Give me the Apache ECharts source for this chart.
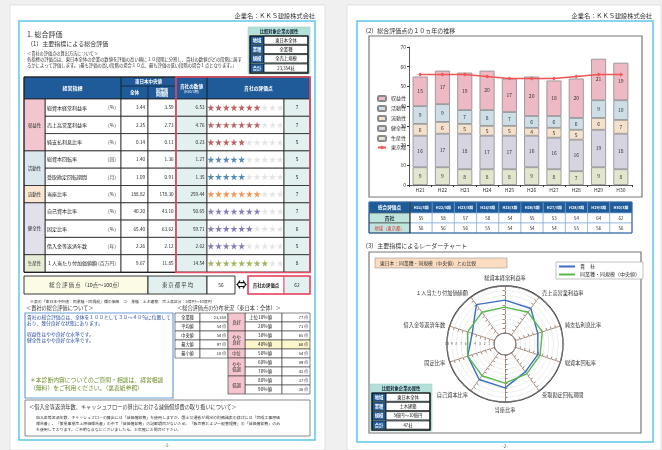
<!DOCTYPE html>
<html><head><meta charset="utf-8">
<script src="https://cdn.jsdelivr.net/npm/echarts@6.0.0/dist/echarts.min.js"></script>
<style>html,body{margin:0;padding:0;background:#f0f0f0}#c{width:662px;height:450px}</style>
</head><body><div id="c"></div><script>
const FF = '"Noto Sans CJK JP","Noto Sans CJK SC",sans-serif';

// ---------- data: page 1 table ----------
const indicators = ['総資本経常利益率','売上高営業利益率','純支払利息比率','総資本回転率','受取勘定回転期間','当座比率','自己資本比率','固定比率','借入金等返済年数','１人当たり付加価値額'];
const units = ['（%）','（%）','（%）','（回）','（月）','（%）','（%）','（%）','（年）','（百万円）'];
const medianAll = [3.44,2.25,0.14,1.40,1.09,188.82,40.20,65.40,2.26,9.67];
const medianSame = [3.59,2.73,0.11,1.36,0.91,178.30,43.10,63.62,2.12,11.85];
const companyValues = [6.53,4.76,0.23,1.27,1.35,259.44,50.65,59.71,2.62,14.54];
const scores = [7,7,5,5,5,7,7,6,5,8];
const groupNames = ['収益性','活動性','流動性','健全性','生産性'];
const groupSizes = [3,2,1,3,1];
const attr1Labels = ['地域','業種','規模','合計'];
const attr1Values = ['東日本全体','全業種','全売上規模','23,354社'];
const attr2Values = ['東日本全体','土木建築','5億円～10億円','47社'];
const distLabels = ['全業種','平均値','中央値','最大値','最小値'];
const distValues = ['23,354','54 点','54 点','97 点','10 点'];
const pctLabels = ['上位10%値','20%値','30%値','40%値','50%値','60%値','70%値','80%値','90%値'];
const pctValues = [77,71,65,60,54,49,43,37,30];
const pctGroups = ['良好','やや\n良好','中位','やや\n低調','低調'];
const pctGroupSizes = [2,2,1,2,2];

// ---------- data: page 2 bar chart ----------
const years = ['H21','H22','H23','H24','H25','H26','H27','H28','H29','H30'];
const yearLabels = ['H21/3期','H22/3期','H23/3期','H24/3期','H25/3期','H26/3期','H27/3期','H28/3期','H29/3期','H30/3期'];
const productivity = [9,9,8,8,8,9,8,7,9,8];
const soundness = [16,17,18,17,17,16,16,16,19,18];
const liquidity = [6,6,5,5,5,4,5,5,6,7];
const activity = [9,9,7,8,7,6,6,6,9,10];
const profitability = [15,17,19,20,17,20,18,20,21,19];
const tokyo = [56,56,56,55,54,54,54,55,56,56];
const companyTotal = [55,58,57,58,54,55,53,54,64,62];

// ---------- data: radar ----------
const radarMedian = [5.5,6,6,5.5,5.5,6,6,6,6,6];
const radarTicks = [10,9,8,7,6,5,4,3,2,1];

// ---------- helpers ----------
const G = [];
function R(x,y,w,h,fill,stroke,lw){G.push({type:'rect',shape:{x:x,y:y,width:w,height:h},style:{fill:fill||'none',stroke:stroke||'none',lineWidth:lw||0},silent:true});}
function T(x,y,t,fs,c,a,b,lh){G.push({type:'text',x:x,y:y,style:{text:t,fontSize:fs,fill:c||'#222',align:a||'left',verticalAlign:'middle',fontFamily:FF,fontWeight:b?'bold':'normal',lineHeight:lh||fs*1.2},silent:true});}
function L(x1,y1,x2,y2,c,lw){G.push({type:'line',shape:{x1:x1,y1:y1,x2:x2,y2:y2},style:{stroke:c,lineWidth:lw},silent:true});}
function C(cx,cy,r,c,lw){G.push({type:'circle',shape:{cx:cx,cy:cy,r:r},style:{fill:'none',stroke:c,lineWidth:lw},silent:true});}

const NAVY='#1f5b98', TEAL='#e2f1ef', RED='#e8506a';
const groupColors = ['#f3c6cf','#dbe7ef','#fbe6d2','#e2e0ea','#e7ecd4'];
const starColors = ['#a83a3a','#2d6aa3','#ef7a2a','#6a5ba6','#8ba33b'];

// pages
R(10,5,315,445,'#fff','#d4d4d4',0.6);
R(347,5,314,445,'#fff','#d4d4d4',0.6);
R(19,21,296,419,'none','#5ec7ea',1.5);
R(357,21,296,421,'none','#5ec7ea',1.5);
T(315,16,'企業名：ＫＫＳ建設株式会社',6.2,'#333','right');
T(652,16,'企業名：ＫＫＳ建設株式会社',6.2,'#333','right');

// ---- page 1 header text ----
T(27,34,'1. 総合評価',7,'#333');
T(27,44,'（1）主要指標による総合評価',6,'#333');
T(27,53,'＜貴社の評価点の算出方法について＞',4.2,'#333');
T(27,59,'各指標の評価点は、東日本全体の企業の数値を評価の高い順に１０段階に分割し、貴社の数値がどの段階に属す',4.3,'#333');
T(27,65,'るかによって評価します。（最も評価の高い段階の場合１０点、最も評価の低い段階の場合１点となります。）',4.3,'#333');

function attrBox(x,y,vals){
  R(x,y,62,47,'#b4e0da','#9fd3cc',0.6);
  T(x+31,y+4.5,'比較対象企業の属性',4.3,'#123','center',true);
  for(let k=0;k<4;k++){
    const ry=y+9+k*9.3;
    R(x+2,ry,14,8.3,NAVY,'#111',0.6);
    T(x+9,ry+4.2,attr1Labels[k],4.3,'#fff','center',true);
    R(x+16,ry,44,8.3,'#fff','#111',0.8);
    T(x+38,ry+4.2,vals[k],4.3,'#111','center');
  }
  R(x+2,y+9,58,37.2,'none','#111',1.2);
}
attrBox(248,27,attr1Values);

// ---- main table ----
const rh=17.3, y0=99;
R(24,77,286,22,NAVY,'#222',0.8);
L(121,77,121,99,'#111',0.8); L(176,77,176,99,'#111',0.8); L(207,77,207,99,'#111',0.8);
L(121,86,176,86,'#111',0.6); L(148,86,148,99,'#111',0.6);
T(72.5,88,'経営指標',5,'#fff','center',true);
T(148.5,81.5,'東日本中央値',4.5,'#fff','center',true);
T(134.5,92.5,'全体',4.6,'#fff','center',true);
T(162,92.5,'同業種\n同規模',4.2,'#fff','center',true,4.8);
T(191.5,86,'貴社の数値',4.6,'#fff','center',true);
T(191.5,92,'(H30/3期)',3.4,'#fff','center');
T(258.5,88,'貴社の評価点',4.8,'#fff','center',true);
for(let i=0;i<indicators.length;i++){
  const y=y0+i*rh, cy=y+rh/2;
  R(45,y,76,rh,'#fff','#222',0.8);
  R(121,y,27,rh,'#fff','#222',0.8);
  R(148,y,28,rh,'#fff','#222',0.8);
  R(176,y,31,rh,TEAL,'#222',0.8);
  R(207,y,77,rh,'#fff','#222',0.8);
  R(284,y,26,rh,TEAL,'#222',0.8);
  T(47,cy,indicators[i],5,'#222');
  T(119,cy,units[i],4.8,'#333','right');
  T(145,cy,medianAll[i].toFixed(2),4.6,'#222','right');
  T(173.5,cy,medianSame[i].toFixed(2),4.6,'#222','right');
  T(204.5,cy,companyValues[i].toFixed(2),4.6,'#222','right');
  T(297,cy,String(scores[i]),4.8,'#222','center');
}
let gs=0;
for(let g=0;g<groupNames.length;g++){
  const y=y0+gs*rh, h=groupSizes[g]*rh;
  R(24,y,21,h,groupColors[g],'#222',0.8);
  T(34.5,y+h/2,groupNames[g],4.5,'#333','center');
  gs+=groupSizes[g];
}
R(24,77,286,195.5,'none','#222',1);
R(176,77,134,195.5,'none',RED,1.6);

// summary row
R(24,276,124,18,'#fbfbe6','#222',0.9);
T(86,285,'総 合 評 価 点 （10点～100点）',5.3,'#333','center');
R(148,276,59,18,TEAL,'#222',0.9);
T(177.5,285,'東 京 都 平 均',5.3,'#333','center');
R(207,276,28,18,'#fff','#222',0.9);
T(221,285,String(tokyo[tokyo.length-1]),4.8,'#222','center');
T(241.5,285,'⇔',11,'#111','center',true);
R(248,276,36,18,'#fff',RED,1);
T(266,285,'貴社の評価点',4.4,'#222','center',true);
R(284,276,26,18,TEAL,RED,1);
T(297,285,String(companyTotal[companyTotal.length-1]),4.8,'#222','center');
R(248,276,62,18,'none',RED,1.5);

T(30,302,'※表の「東日本中央値：同業種・同規模」欄の価格　⇒　業種：土木建築　売上高区分：5億円～10億円',3.9,'#333');
T(26,308.5,'＜貴社の総合評価について＞',5.2,'#333');
T(177,308.5,'＜総合評価点の分布状況（東日本：全体）＞',5.2,'#333');

// comment box
R(25,313,148,85,'#fff','#6aa0d8',1.2);
T(27,317.5,'貴社の総合評価点は、全体を１００として３０～４０％に位置して',4.8,'#2a4ea0');
T(27,323.5,'おり、幾分良好な状態にあります。',4.8,'#2a4ea0');
T(27,334,'収益性はやや良好な水準です。',4.8,'#2a4ea0');
T(27,340,'健全性はやや良好な水準です。',4.8,'#2a4ea0');
T(30,380,'＊本診断内容についてのご質問・相談は、経営相談',5.8,'#6f8f2a');
T(30,387.5,'（無料）をご利用ください。（裏表紙参照）',5.8,'#6f8f2a');

// distribution tables
for(let k=0;k<distLabels.length;k++){
  const y=313+k*9;
  R(175,y,25,9,'#fff','#333',0.6); T(187.5,y+4.5,distLabels[k],4.2,'#222','center');
  R(200,y,28,9,'#fff','#333',0.6); T(226,y+4.5,distValues[k],4.0,'#222','right');
}
for(let k=0;k<pctLabels.length;k++){
  const y=313+k*9, hl=(k===3);
  R(245,y,37,9,hl?'#fbf6cc':'#fff','#333',0.6); T(272,y+4.5,pctLabels[k],4.6,'#222','right');
  R(282,y,28,9,hl?'#fbf6cc':'#fff','#333',0.6); T(308,y+4.5,pctValues[k]+' 点',4.0,'#222','right');
}
let ps=0;
for(let g=0;g<pctGroups.length;g++){
  const y=313+ps*9, h=pctGroupSizes[g]*9;
  R(228,y,17,h,'#f4c5cf','#333',0.6);
  T(236.5,y+h/2,pctGroups[g],4.3,'#333','center',false,4.8);
  ps+=pctGroupSizes[g];
}

// note box
R(25,400,285,36,'#fff','#888',1);
T(29,407.5,'＜借入金等返済年数、キャッシュフローの算出における減価償却費の取り扱いについて＞',5.2,'#333');
T(36,418,'借入金等返済年数、キャッシュフローの算出には「減価償却費」を使用しますが、国土交通省が規定の財務諸表の様式には「完成工事原価',3.95,'#333');
T(36,424,'報告書」、「兼業事業売上原価報告書」の中で「減価償却費」の記載項目がないため、「販売費および一般管理費」の「減価償却費」のみ',3.95,'#333');
T(36,430,'を使用しております。ご不明な点などございましたら、お気軽にお問合せ下さい。',3.95,'#333');
T(167,445,'-1-',4.5,'#555','center');

// ---- page 2 ----
T(362,30.5,'（2）総合評価点の１０ヵ年の推移',6,'#333');
R(369,36,273,161,'#fff','#777',1.2);
// table below bar chart
R(369,202,41,11,NAVY,'#7aa6d6',0.5);
T(389.5,207.5,'総合評価点',4.6,'#fff','center',true);
R(369,213,41,10,'#bfe4dc','#333',0.6);
T(389.5,218,'貴社',5,'#123','center',true);
R(369,223,41,10,'#bfe4dc','#333',0.6);
T(389.5,228,'地域（東京都）',4.3,'#e03030','center');
const cw=22.2;
for(let j=0;j<yearLabels.length;j++){
  const x=410+j*cw;
  R(x,202,cw,11,NAVY,'#7aa6d6',0.5); T(x+cw/2,207.5,yearLabels[j],3.8,'#fff','center',true);
  R(x,213,cw,10,'#fff','#7aa6d6',0.6); T(x+cw/2,218,String(companyTotal[j]),4.4,'#222','center');
  R(x,223,cw,10,'#fff','#7aa6d6',0.6); T(x+cw/2,228,String(tokyo[j]),4.4,'#222','center');
}
R(369,202,263,31,'none','#1f5b98',1);
L(410,202,410,233,'#222',1);

T(362,245.5,'（3）主要指標によるレーダーチャート',6,'#333');
R(369,252,272,181,'#fff','#777',1.2);
R(375,258,132,10,'#fbdcc1','#999',0.6);
T(380,263,'東日本：同業種・同規模（中央値）との比較',4.8,'#333');
C(505,344,58,'#222',1.3);
C(505,344,11,'#222',1);
for(let k=0;k<radarTicks.length;k++){
  T(505-11-radarTicks[k]*4.7,344,String(radarTicks[k]),3.4,'#333','center');
}
attrBox(370,384,attr2Values);
T(505,446,'-2-',4.5,'#555','center');

// ---------- stars (scatter) ----------
const starPath='path://M50,0 L61,35 L98,35 L68,57 L79,91 L50,70 L21,91 L32,57 L2,35 L39,35 Z';
const rowGroup=[]; groupSizes.forEach((s,g)=>{for(let k=0;k<s;k++)rowGroup.push(g);});
const starOn=[], starOff=[];
scores.forEach((s,i)=>{
  for(let k=1;k<=10;k++){
    if(k<=s) starOn.push({value:[k,i],itemStyle:{color:starColors[rowGroup[i]]}});
    else starOff.push([k,i]);
  }
});

// radar order (clockwise from top)
const rOrder=[0,9,8,7,6,5,4,3,2,1];

const barStyle=(c)=>({color:c,borderColor:'#8a8a8a',borderWidth:0.8});
const lbl={show:true,position:'inside',fontSize:5,color:'#333',fontFamily:FF};

const option={
  animation:false,
  backgroundColor:'#f0f0f0',
  textStyle:{fontFamily:FF},
  graphic:{elements:G},
  legend:[
    {left:372,top:90,orient:'vertical',itemWidth:8,itemHeight:5,itemGap:3,
     textStyle:{fontSize:5,color:'#333'},
     data:['収益性','活動性','流動性','健全性','生産性','東京都']},
    {left:556,top:262,orient:'vertical',itemWidth:16,itemHeight:2,itemGap:3,icon:'rect',
     padding:[2,3],backgroundColor:'#fff',borderColor:'#999',borderWidth:0.6,
     textStyle:{fontSize:5,color:'#333'},
     data:['貴　社','同業種・同規模（中央値）']}
  ],
  grid:[
    {left:409,right:30,top:47,bottom:265,containLabel:false},
    {left:207,top:99,width:77,height:173}
  ],
  xAxis:[
    {type:'category',gridIndex:0,data:years,
     axisLine:{lineStyle:{color:'#333',width:0.8}},
     axisTick:{show:true,length:2,lineStyle:{color:'#333'}},
     axisLabel:{fontSize:5,color:'#333',margin:3}},
    {type:'value',gridIndex:1,min:0.5,max:10.5,show:false}
  ],
  yAxis:[
    {type:'value',gridIndex:0,min:0,max:70,interval:10,
     axisLine:{show:true,lineStyle:{color:'#333',width:0.8}},
     axisTick:{show:true,length:2,lineStyle:{color:'#333'}},
     axisLabel:{fontSize:5,color:'#333',margin:3},
     splitLine:{show:false}},
    {type:'category',gridIndex:1,data:indicators,inverse:true,show:false}
  ],
  radar:{
    center:[505,344],radius:[11,58],startAngle:90,splitNumber:10,shape:'circle',
    indicator:rOrder.map(i=>({name:indicators[i],min:0,max:10})),
    axisName:{color:'#333',fontSize:5.2,fontFamily:FF},
    nameGap:5,
    axisLine:{lineStyle:{color:'#8b6b5b',type:'dashed',width:0.8}},
    axisTick:{show:true,length:2.5,lineStyle:{color:'#8b6b5b',width:0.8}},
    splitLine:{lineStyle:{color:'#dcdcdc',width:0.5}},
    splitArea:{show:false}
  },
  series:[
    {name:'生産性',type:'bar',stack:'s',barWidth:15,data:productivity,itemStyle:barStyle('#e3e6cf'),label:lbl},
    {name:'健全性',type:'bar',stack:'s',data:soundness,itemStyle:barStyle('#d6d4e1'),label:lbl},
    {name:'流動性',type:'bar',stack:'s',data:liquidity,itemStyle:barStyle('#f4e1cc'),label:lbl},
    {name:'活動性',type:'bar',stack:'s',data:activity,itemStyle:barStyle('#cedee7'),label:lbl},
    {name:'収益性',type:'bar',stack:'s',data:profitability,itemStyle:barStyle('#ecb9c4'),label:lbl},
    {name:'東京都',type:'line',data:tokyo,symbol:'diamond',symbolSize:4,
     lineStyle:{color:'#f05555',width:1.5},itemStyle:{color:'#f05555'},z:5},
    {type:'scatter',xAxisIndex:1,yAxisIndex:1,symbol:starPath,symbolSize:7,data:starOn,silent:true},
    {type:'scatter',xAxisIndex:1,yAxisIndex:1,symbol:starPath,symbolSize:7,data:starOff,itemStyle:{color:'#dedede'},silent:true},
    {name:'貴　社',type:'radar',symbol:'none',lineStyle:{color:'#3a6fc4',width:1.4},itemStyle:{color:'#3a6fc4'},
     data:[{name:'貴　社',value:rOrder.map(i=>scores[i])}]},
    {name:'同業種・同規模（中央値）',type:'radar',symbol:'none',lineStyle:{color:'#58b84c',width:1.4},itemStyle:{color:'#58b84c'},
     data:[{name:'同業種・同規模（中央値）',value:rOrder.map(i=>radarMedian[i])}]}
  ]
};
const chart=echarts.init(document.getElementById('c'),null,{renderer:'canvas'});
chart.setOption(option);
</script></body></html>
